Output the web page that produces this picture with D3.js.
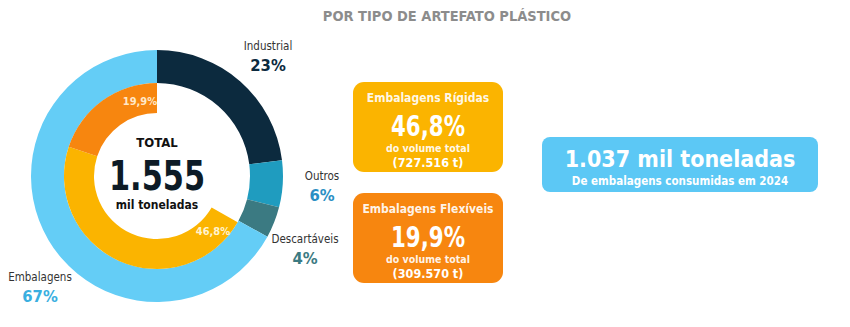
<!DOCTYPE html>
<html><head><meta charset="utf-8">
<script src="https://cdn.jsdelivr.net/npm/d3@7"></script>
<style>
body{margin:0;background:#fff;}
svg text{font-family:"DejaVu Sans Condensed","DejaVu Sans",Roboto,sans-serif;}
</style></head>
<body><svg id="c" width="850" height="327"></svg>
<script>
const title = "POR TIPO DE ARTEFATO PLÁSTICO";
const outerCategories = ["Industrial","Outros","Descartáveis","Embalagens"];
const outerValues = [23, 6, 4, 67];
const outerColors = ["#0c2a3e","#1f9cbf","#3b7a82","#64cdf6"];
const labelColors = ["#0c2a3e","#2a8fc4","#3b7a82","#3aafe0"];
const innerCategories = ["Embalagens Rígidas","Embalagens Flexíveis"];
const innerValues = [46.8, 19.9];
const innerTonnes = ["727.516 t","309.570 t"];
const innerColors = ["#fbb400","#f7860f"];
const totalValue = "1.555";
const packagingTotal = "1.037 mil toneladas";
const packagingSub = "De embalagens consumidas em 2024";

const svg = d3.select("#c");
svg.append("text").attr("x",447).attr("y",21).attr("text-anchor","middle")
  .attr("font-size",14.5).attr("font-weight","bold").attr("fill","#8c8c8c").text(title);

const cx = 157, cy = 176;
const g = svg.append("g").attr("transform",`translate(${cx},${cy})`);
const pie = d3.pie().sort(null).value(d=>d);
const outerArcs = pie(outerValues);
const arcOuter = d3.arc().innerRadius(93).outerRadius(126);
g.selectAll("path.o").data(outerArcs).join("path").attr("class","o")
  .attr("d",arcOuter).attr("fill",(d,i)=>outerColors[i]);

// inner ring occupies the end of the full circle (aligned with Embalagens)
const innerSum = d3.sum(innerValues);
const startA = 2*Math.PI*(1 - innerSum/100);
const innerPie = d3.pie().sort(null).value(d=>d).startAngle(startA).endAngle(2*Math.PI);
const innerArcs = innerPie(innerValues);
const arcInner = d3.arc().innerRadius(63).outerRadius(93);
g.selectAll("path.i").data(innerArcs).join("path").attr("class","i")
  .attr("d",arcInner).attr("fill",(d,i)=>innerColors[i]);

// inner ring labels
const fmt = v => d3.format(".1f")(v).replace(".",",")+"%";
svg.append("text").attr("x",140).attr("y",105).attr("text-anchor","middle")
  .attr("font-size",11).attr("font-weight","bold").attr("fill","#ffe8c8").text(fmt(innerValues[1]));
svg.append("text").attr("x",213).attr("y",235).attr("text-anchor","middle")
  .attr("font-size",11).attr("font-weight","bold").attr("fill","#fff3cf").text(fmt(innerValues[0]));

// center
g.append("text").attr("y",-29).attr("text-anchor","middle").attr("font-size",13)
  .attr("font-weight","bold").attr("fill","#111").text("TOTAL");
g.append("text").attr("y",14).attr("text-anchor","middle").attr("font-size",40)
  .attr("font-weight","bold").attr("fill","#0d1b26").attr("textLength",96).attr("lengthAdjust","spacingAndGlyphs").text(totalValue);
g.append("text").attr("y",33).attr("text-anchor","middle").attr("font-size",12)
  .attr("font-weight","bold").attr("fill","#111").text("mil toneladas");

// outer labels
const labelPos = [[268,50],[322,180],[305,243],[40,281]];
outerCategories.forEach((c,i)=>{
  const [x,y]=labelPos[i];
  svg.append("text").attr("x",x).attr("y",y).attr("text-anchor","middle").attr("font-size",11.5)
    .attr("fill","#333").text(c);
  svg.append("text").attr("x",x).attr("y",y+21).attr("text-anchor","middle").attr("font-size",16.5)
    .attr("font-weight","bold").attr("fill",labelColors[i]).text(outerValues[i]+"%");
});

// boxes
const boxes = [
  {y:82, label:innerCategories[0], v:innerValues[0], t:innerTonnes[0], c:innerColors[0]},
  {y:193, label:innerCategories[1], v:innerValues[1], t:innerTonnes[1], c:innerColors[1]}
];
boxes.forEach(b=>{
  const bg = svg.append("g").attr("transform",`translate(353,${b.y})`);
  bg.append("rect").attr("width",150).attr("height",90).attr("rx",11).attr("fill",b.c);
  bg.append("text").attr("x",75).attr("y",20).attr("text-anchor","middle").attr("font-size",12)
    .attr("font-weight","bold").attr("fill","#fff").attr("fill-opacity",0.92).text(b.label);
  bg.append("text").attr("x",75).attr("y",54).attr("text-anchor","middle").attr("font-size",28)
    .attr("font-weight","bold").attr("fill","#fff").attr("textLength",74).attr("lengthAdjust","spacingAndGlyphs").text(fmt(b.v));
  bg.append("text").attr("x",75).attr("y",70).attr("text-anchor","middle").attr("font-size",10.5)
    .attr("font-weight","bold").attr("fill","#fff").attr("fill-opacity",0.92).text("do volume total");
  bg.append("text").attr("x",75).attr("y",85).attr("text-anchor","middle").attr("font-size",12.5)
    .attr("font-weight","bold").attr("fill","#fff").text("("+b.t+")");
});

const rb = svg.append("g").attr("transform","translate(542,137)");
rb.append("rect").attr("width",276).attr("height",55).attr("rx",8).attr("fill","#5cc8f5");
rb.append("text").attr("x",138).attr("y",30).attr("text-anchor","middle").attr("font-size",23)
  .attr("font-weight","bold").attr("fill","#fff").text(packagingTotal);
rb.append("text").attr("x",138).attr("y",48).attr("text-anchor","middle").attr("font-size",11.5)
  .attr("font-weight","bold").attr("fill","#fff").text(packagingSub);
</script></body></html>
